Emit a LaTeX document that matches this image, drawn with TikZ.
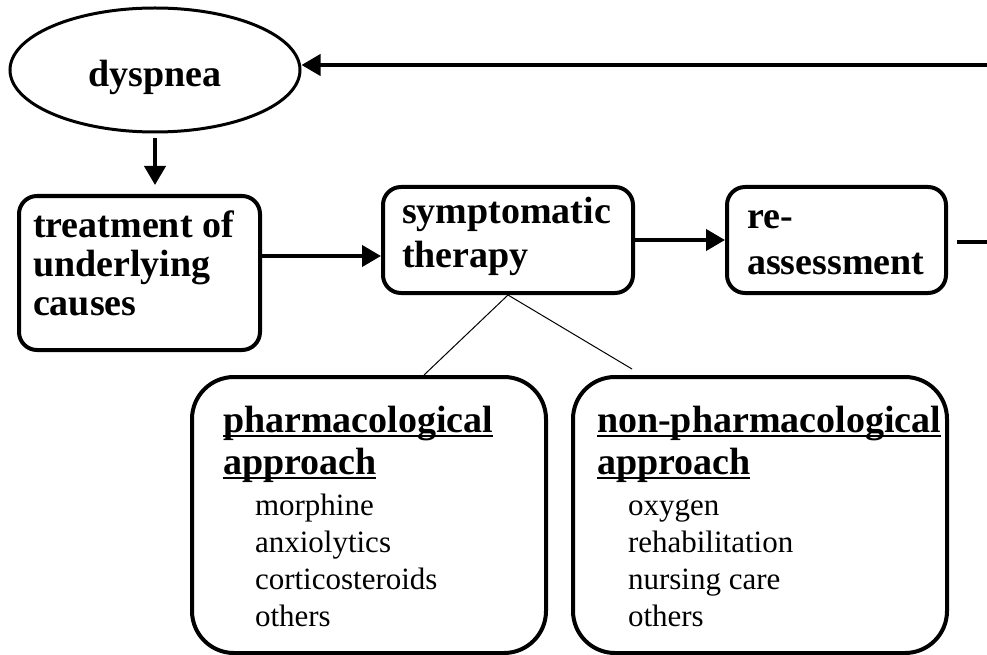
\documentclass[tikz,border=0pt]{standalone}
\usepackage{fontspec}
\setmainfont{Liberation Serif}
\usetikzlibrary{shapes.geometric,arrows.meta,calc}
\setlength{\parindent}{0pt}

\newcommand\ulined[1]{\leavevmode\setbox0\hbox{#1}\rlap{\rule[-5pt]{\wd0}{2pt}}\box0}

\begin{document}
\begin{tikzpicture}[
        x=1pt, y=-1pt,
        every node/.style={font=\bfseries\fontsize{38}{42}\selectfont},
        oval/.style={ellipse,draw,line width=3pt,minimum width=290pt,minimum height=124pt,
            inner sep=0pt,text height=34pt,text depth=0pt},
        block/.style={draw,line width=4pt,rounded corners=18pt,align=flush left,
            inner ysep=2pt,text height=26pt},
        bigblock/.style={block,rounded corners=42pt,minimum height=276pt,text depth=192pt},
        arr/.style={line width=4pt,-{Triangle[length=19pt,width=21pt]}},
        link/.style={line width=4pt},
        thinline/.style={line width=1pt}
    ]

    \useasboundingbox (0,0) rectangle (987,655);

    \node[oval] (dys) at (155,70) {dyspnea};

    \node[block,text width=213pt,inner xsep=14pt,minimum height=154pt,text depth=98pt,
        font=\bfseries\fontsize{38}{39}\selectfont] (treat) at (139.5,273)
        {\spaceskip=0pt treatment of\\underlying\\causes};
    \node[block,text width=212pt,inner xsep=19pt,minimum height=106pt,text depth=60pt,
        font=\bfseries\fontsize{38}{44}\selectfont] (symp) at (508,240)
        {symptomatic\\therapy};
    \node[block,text width=179pt,inner xsep=20pt,minimum height=106pt,text depth=50pt,
        font=\bfseries\fontsize{38}{46}\selectfont] (reass) at (836.5,240)
        {re-\\assessment};

    \node[bigblock,text width=292pt,inner xsep=31pt] (pharma) at (369,515)
        {\ulined{pharmacological}\\\ulined{approach}\par\vspace{4pt}
         {\mdseries\fontsize{31}{37}\selectfont\leftskip=32pt\spaceskip=0pt
          morphine\\anxiolytics\\corticosteroids\\others\par}};
    \node[bigblock,text width=326pt,inner xsep=24pt] (nonph) at (760,515)
        {\ulined{non-pharmacological}\\\ulined{approach}\par\vspace{4pt}
         {\mdseries\fontsize{31}{37}\selectfont\leftskip=31pt\spaceskip=0pt
          oxygen\\rehabilitation\\nursing care\\others\par}};

    % loop back from the right
    \coordinate (loopin) at (987,65);
    \coordinate (loopout) at (987,242);
    \draw[arr] (loopin) -- (loopin -| dys.east);
    \draw[link,shorten <=9pt] (reass.east |- loopout) -- (loopout);

    \draw[arr,shorten <=5pt,shorten >=9pt] (dys.south) -- (dys.south |- treat.north);
    \coordinate (tm) at ($(treat.east)+(0,-17)$);
    \draw[arr] (tm) -- (tm -| symp.west);
    \draw[arr] (symp.east) -- (reass.west);

    \coordinate (nonfree) at (632,369);
    \draw[thinline] (symp.south) -- ($(pharma.north)+(55,0)$);
    \draw[thinline] (symp.south) -- (nonfree);

\end{tikzpicture}
\end{document}
